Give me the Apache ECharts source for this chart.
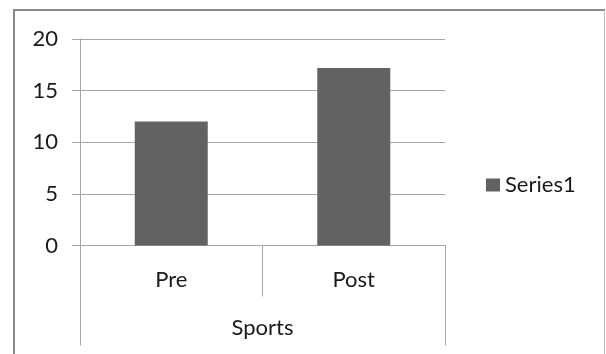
<!DOCTYPE html>
<html>
<head>
<meta charset="utf-8">
<script src="https://cdn.jsdelivr.net/npm/echarts@6/dist/echarts.min.js"></script>
<style>
html,body{margin:0;padding:0;background:#fff;}
#c{width:606px;height:354px;}
</style>
</head>
<body>
<div id="c"></div>
<script>
const categories = ['Pre', 'Post'];
const groupLabels = ['Sports'];
const series1 = [12.0, 17.2];
const seriesName = 'Series1';
const yTicks = { min: 0, max: 20, interval: 5 };

const FONT = 'Lato';
const TXT = '#1a1a1a';
const GRID = '#a6a6a6';

const chart = echarts.init(document.getElementById('c'), null, { renderer: 'canvas' });
chart.setOption({
  animation: false,
  backgroundColor: '#ffffff',
  textStyle: { fontFamily: FONT },
  graphic: [
    { type: 'line', silent: true, shape: { x1: 14, y1: 9, x2: 14, y2: 354 }, style: { stroke: '#8a8a8a', lineWidth: 2 } },
    { type: 'line', silent: true, shape: { x1: 13, y1: 10, x2: 605, y2: 10 }, style: { stroke: '#8a8a8a', lineWidth: 2 } },
    { type: 'line', silent: true, shape: { x1: 604.5, y1: 10, x2: 604.5, y2: 354 }, style: { stroke: '#bdbdbd', lineWidth: 1 } }
  ],
  grid: { left: 80, right: 161, top: 39, bottom: 108.5, containLabel: false },
  legend: {
    data: [seriesName],
    left: 486, top: 174, padding: 0,
    icon: 'rect', itemWidth: 14, itemHeight: 13,
    textStyle: { fontFamily: FONT, fontSize: 22, color: TXT, lineHeight: 22 }
  },
  xAxis: [
    {
      type: 'category', data: categories, position: 'bottom',
      axisLine: { show: true, lineStyle: { color: GRID, width: 1 } },
      axisTick: { show: true, length: 51, alignWithLabel: false, lineStyle: { color: GRID } },
      axisLabel: { fontFamily: FONT, fontSize: 22, color: TXT, margin: 34, verticalAlign: 'middle' },
      splitLine: { show: false }
    },
    {
      type: 'category', data: groupLabels, position: 'bottom',
      axisLine: { show: false },
      axisTick: { show: true, length: 100, alignWithLabel: false, lineStyle: { color: GRID } },
      axisLabel: { fontFamily: FONT, fontSize: 22, color: TXT, margin: 82, verticalAlign: 'middle' },
      splitLine: { show: false }
    }
  ],
  yAxis: {
    type: 'value', min: yTicks.min, max: yTicks.max, interval: yTicks.interval,
    axisLine: { show: true, lineStyle: { color: GRID, width: 1 } },
    axisTick: { show: true, length: 8, lineStyle: { color: GRID } },
    axisLabel: { fontFamily: FONT, fontSize: 22, color: TXT, margin: 22 },
    splitLine: { show: true, lineStyle: { color: GRID, width: 1 } }
  },
  series: [
    {
      name: seriesName, type: 'bar', xAxisIndex: 0, data: series1,
      barCategoryGap: '60%',
      itemStyle: { color: '#626262' }
    }
  ]
});
</script>
</body>
</html>
